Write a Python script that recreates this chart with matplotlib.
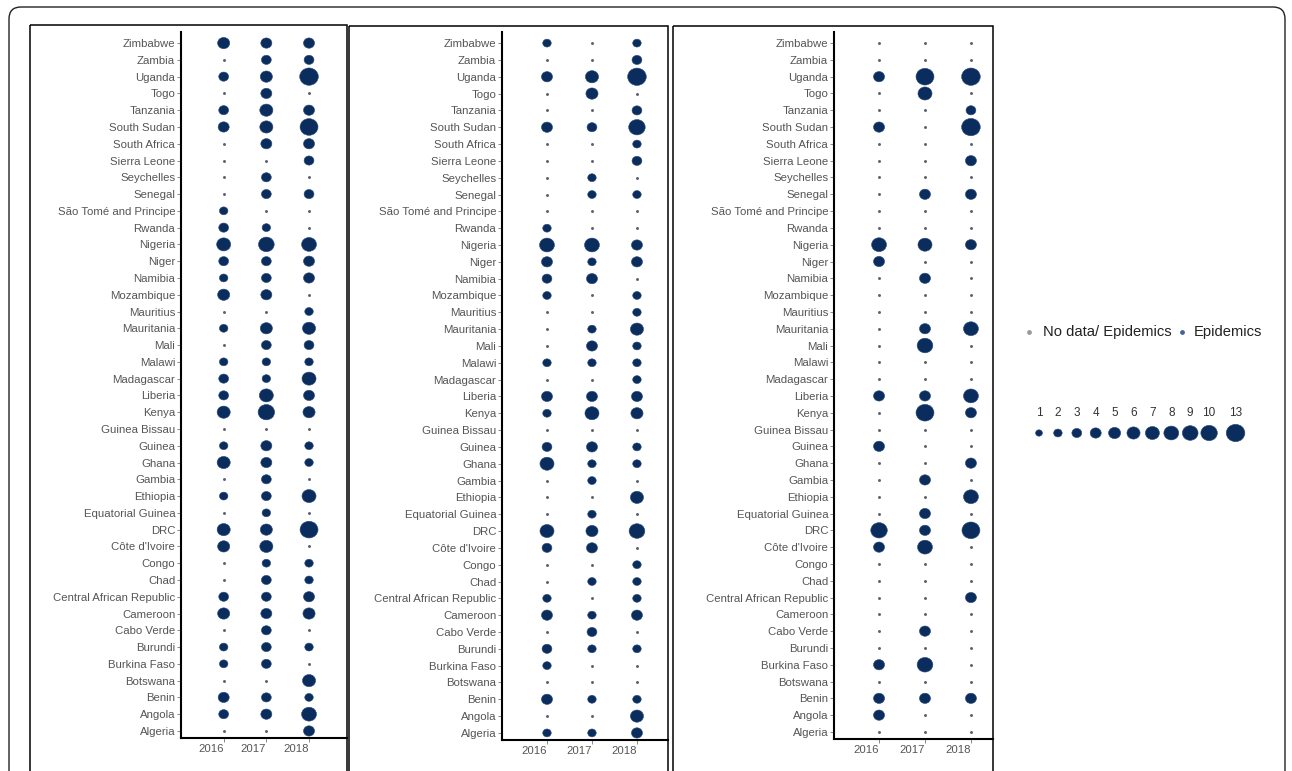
import numpy as np
import matplotlib
matplotlib.use('Agg')
import matplotlib.pyplot as plt
import matplotlib.transforms as mtransforms
from matplotlib.patches import Rectangle, FancyBboxPatch
from matplotlib.path import Path

plt.rcParams['font.family'] = ['Liberation Sans', 'DejaVu Sans']

W, H, DPI = 1292, 771, 100

# countries, top to bottom as in the picture
countries = ['Zimbabwe', 'Zambia', 'Uganda', 'Togo', 'Tanzania', 'South Sudan', 'South Africa',
             'Sierra Leone', 'Seychelles', 'Senegal', 'São Tomé and Principe', 'Rwanda', 'Nigeria',
             'Niger', 'Namibia', 'Mozambique', 'Mauritius', 'Mauritania', 'Mali', 'Malawi',
             'Madagascar', 'Liberia', 'Kenya', 'Guinea Bissau', 'Guinea', 'Ghana', 'Gambia',
             'Ethiopia', 'Equatorial Guinea', 'DRC', "Côte d'Ivoire", 'Congo', 'Chad',
             'Central African Republic', 'Cameroon', 'Cabo Verde', 'Burundi', 'Burkina Faso',
             'Botswana', 'Benin', 'Angola', 'Algeria']
years = ['2016', '2017', '2018']

# number of epidemics (0 = no data), same order as countries
p1_2016 = [5, 0, 3, 0, 3, 4, 0, 0, 0, 0, 2, 3, 7, 3, 2, 5, 0, 2, 0, 2, 3, 3, 6, 0, 2, 6, 0, 2, 0, 6, 5, 0, 0, 3, 5, 0, 2, 2, 0, 4, 3, 0]
p1_2017 = [4, 3, 5, 4, 6, 6, 4, 0, 3, 3, 0, 2, 9, 3, 3, 4, 0, 5, 3, 2, 2, 7, 10, 0, 4, 4, 3, 3, 2, 5, 6, 2, 3, 3, 4, 3, 3, 3, 0, 3, 4, 0]
p1_2018 = [4, 3, 13, 0, 4, 12, 4, 3, 0, 3, 0, 0, 8, 4, 4, 0, 2, 6, 3, 2, 7, 4, 5, 0, 2, 2, 0, 7, 0, 12, 0, 2, 2, 4, 5, 0, 2, 0, 6, 2, 8, 4]

p2_2016 = [2, 0, 4, 0, 0, 4, 0, 0, 0, 0, 0, 2, 8, 4, 3, 2, 0, 0, 0, 2, 0, 4, 2, 0, 3, 7, 0, 0, 0, 7, 3, 0, 0, 2, 4, 0, 3, 2, 0, 4, 0, 2]
p2_2017 = [0, 0, 6, 5, 0, 3, 0, 0, 2, 2, 0, 0, 8, 2, 4, 0, 0, 2, 4, 2, 0, 4, 7, 0, 4, 2, 2, 0, 2, 5, 4, 0, 2, 0, 2, 3, 2, 0, 0, 2, 0, 2]
p2_2018 = [2, 3, 13, 0, 3, 10, 2, 3, 0, 2, 0, 0, 4, 4, 0, 2, 2, 6, 2, 2, 2, 4, 5, 0, 2, 2, 0, 6, 0, 9, 0, 2, 2, 2, 4, 0, 2, 0, 0, 2, 6, 4]

p3_2016 = [0, 0, 4, 0, 0, 4, 0, 0, 0, 0, 0, 0, 8, 4, 0, 0, 0, 0, 0, 0, 0, 4, 0, 0, 4, 0, 0, 0, 0, 10, 4, 0, 0, 0, 0, 0, 0, 4, 0, 4, 4, 0]
p3_2017 = [0, 0, 12, 7, 0, 0, 0, 0, 0, 4, 0, 0, 7, 0, 4, 0, 0, 4, 9, 0, 0, 4, 12, 0, 0, 0, 4, 0, 4, 4, 8, 0, 0, 0, 0, 4, 0, 9, 0, 4, 0, 0]
p3_2018 = [0, 0, 13, 0, 3, 13, 0, 4, 0, 4, 0, 0, 4, 0, 0, 0, 0, 8, 0, 0, 0, 8, 4, 0, 0, 4, 0, 8, 0, 12, 0, 0, 0, 4, 0, 0, 0, 0, 0, 4, 0, 0]

panels = [[p1_2016, p1_2017, p1_2018],
          [p2_2016, p2_2017, p2_2018],
          [p3_2016, p3_2017, p3_2018]]

legend_sizes = [1, 2, 3, 4, 5, 6, 7, 8, 9, 10, 13]
legend_labels = ['No data/ Epidemics', 'Epidemics']

NAVY = '#0b2d5e'
ZERO = '#5b606c'
GREY_TXT = '#555555'

# the source image is a bit stretched sideways, so the dots are slightly wide ellipses
_circ = Path.unit_circle()
OVAL = Path(_circ.vertices * np.array([1.0, 0.93]), _circ.codes)


def size_pt2(v):
    # bubble area grows linearly with the count, width in px -> points^2
    v = np.asarray(v, dtype=float)
    d_px = np.sqrt(22 + 25 * v)
    return (d_px * 72 / DPI) ** 2


def fig_rect(left, top, right, bottom):
    return [left / W, 1 - bottom / H, (right - left) / W, (bottom - top) / H]


fig = plt.figure(figsize=(W / DPI, H / DPI), dpi=DPI)

# overlay in pixel coordinates for the frames and the legend
ov = fig.add_axes([0, 0, 1, 1])
ov.set_xlim(0, W)
ov.set_ylim(H, 0)
ov.axis('off')
ov.add_patch(FancyBboxPatch((9, 7), 1276, 820, boxstyle='round,pad=0,rounding_size=12',
                            fill=False, ec='#222222', lw=1.0, clip_on=False))
for (l, t, r) in [(30, 25, 347), (349, 26, 668), (673, 26, 993)]:
    ov.add_patch(Rectangle((l, t), r - l, 820, fill=False, ec='black', lw=1.1, clip_on=False))

# axes boxes (left, top, right, bottom in px) and x-limits
boxes = [(181, 32, 347, 738), (502, 32, 668, 740), (834, 32, 993, 739)]
xlims = [(0.0, 3.89), (0.0, 3.69), (0.02, 3.48)]

ypos = np.arange(len(countries))[::-1]
shift = mtransforms.ScaledTranslation(-0.13, 0, fig.dpi_scale_trans)

for box, xl, series in zip(boxes, xlims, panels):
    ax = fig.add_axes(fig_rect(*box))
    ax.patch.set_visible(False)
    for i, vals in enumerate(series):
        vals = np.array(vals)
        x = np.full(len(vals), i + 1)
        zero = vals == 0
        ax.scatter(x[zero], ypos[zero], s=4.5, color=ZERO, lw=0, zorder=3)
        ax.scatter(x[~zero], ypos[~zero], s=size_pt2(vals[~zero]), marker=OVAL, color=NAVY,
                   lw=0.4, edgecolor='#2a4a7a', zorder=3)
    ax.set_xlim(*xl)
    ax.set_ylim(-0.42, len(countries) - 1 + 0.66)
    ax.set_yticks(ypos)
    ax.set_yticklabels(countries)
    ax.set_xticks([1, 2, 3])
    ax.set_xticklabels(years)
    ax.tick_params(axis='both', labelsize=8.2, labelcolor=GREY_TXT, color='#777777',
                   length=3, width=0.6, pad=1.2)
    for lbl in ax.get_xticklabels():
        lbl.set_transform(lbl.get_transform() + shift)
    for s in ['top', 'right']:
        ax.spines[s].set_visible(False)
    for s in ['left', 'bottom']:
        ax.spines[s].set_linewidth(1.5)
        ax.spines[s].set_color('black')

# colour legend
ov.scatter([1029], [332], s=12, color='#9a9a9a', lw=0)
ov.text(1043, 332, legend_labels[0], fontsize=10.6, color='#222222', va='center', ha='left')
ov.scatter([1182], [332], s=12, color='#3d659c', lw=0)
ov.text(1194, 332, legend_labels[1], fontsize=10.6, color='#222222', va='center', ha='left')

# size legend
lx = 1039 + 18.9 * np.r_[np.arange(10), 10.4]
ov.scatter(lx, np.full(len(lx), 433), s=size_pt2(legend_sizes), marker=OVAL, color=NAVY,
           lw=0.4, edgecolor='#2a4a7a')
for x, v in zip(lx, legend_sizes):
    ov.text(x, 413, str(v), fontsize=8.5, color='#333333', ha='center', va='center')

fig.savefig('out.png', dpi=DPI)
plt.close(fig)
